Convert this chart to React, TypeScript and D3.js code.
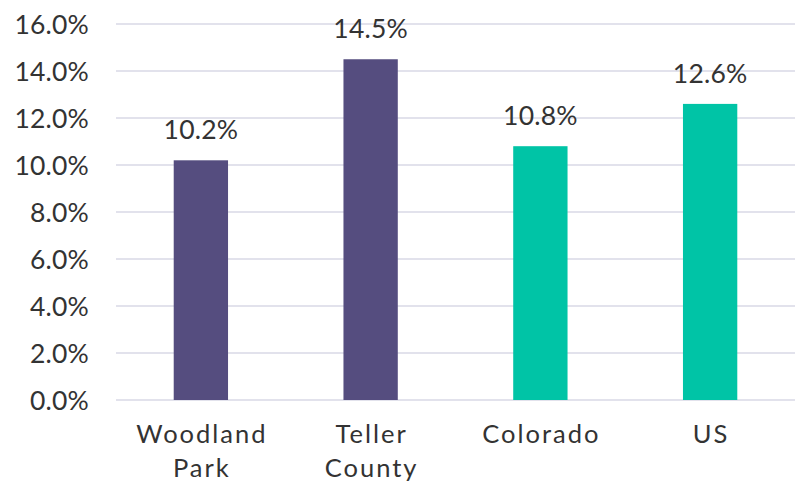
import React from "react";
import * as d3 from "d3";

const categories = ["Woodland Park", "Teller County", "Colorado", "US"];
const values = [10.2, 14.5, 10.8, 12.6];
const barColors = ["#554d7f", "#554d7f", "#00c4a6", "#00c4a6"];
const yTicks = [0, 2, 4, 6, 8, 10, 12, 14, 16];

const W = 796;
const H = 483;
const left = 116;
const right = 795;
const top = 24;
const bottom = 400;
const font = "Lato, 'Noto Sans', sans-serif";
const textColor = "#333333";

export default function App() {
  const x = d3.scaleBand<string>().domain(categories).range([left, right]).paddingInner(0.68).paddingOuter(0.34);
  const y = d3.scaleLinear().domain([0, 16]).range([bottom, top]);
  return (
    <svg width={W} height={H} style={{ position: "absolute", left: 0, top: 0 }}>
      {yTicks.map((t) => (
        <g key={t}>
          <line x1={left} x2={right} y1={y(t)} y2={y(t)} stroke="#d9d9e6" strokeWidth={1.5} />
          <text x={89} y={y(t)} dy="0.36em" textAnchor="end" fontFamily={font} fontSize={26.5} letterSpacing={0.2} fill={textColor}>
            {t.toFixed(1)}%
          </text>
        </g>
      ))}
      {categories.map((c, i) => {
        const bx = x(c)!;
        const cx = bx + x.bandwidth() / 2;
        const words = c.split(" ");
        return (
          <g key={c}>
            <rect x={bx} y={y(values[i])} width={x.bandwidth()} height={y(0) - y(values[i])} fill={barColors[i]} />
            <text x={cx} y={y(values[i]) - 21} textAnchor="middle" fontFamily={font} fontSize={26.5} letterSpacing={0.2} fill={textColor}>
              {values[i].toFixed(1)}%
            </text>
            {words.map((w, j) => (
              <text key={j} x={cx + 1} y={443 + j * 34} textAnchor="middle" fontFamily={font} fontSize={25.5} letterSpacing={2} fill={textColor}>
                {w}
              </text>
            ))}
          </g>
        );
      })}
    </svg>
  );
}
